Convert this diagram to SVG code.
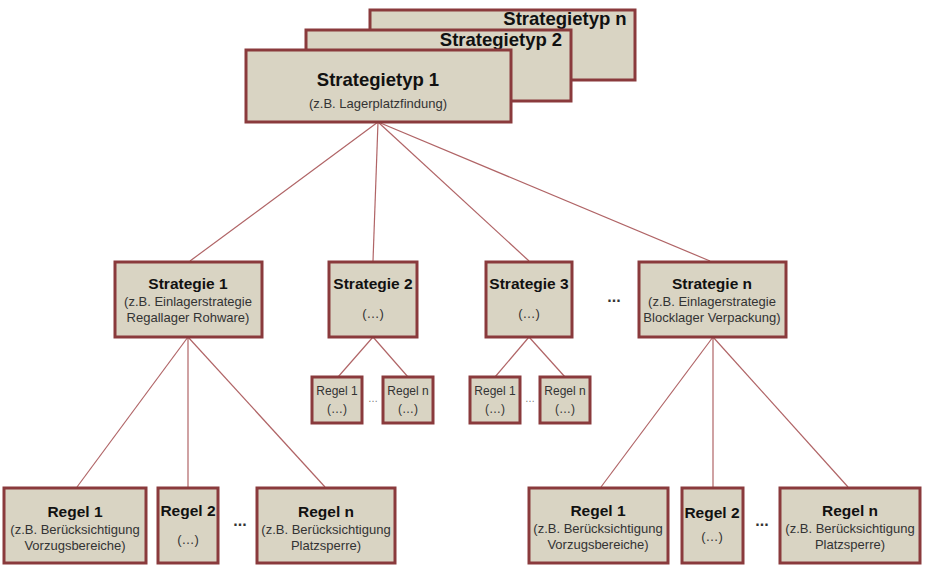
<svg xmlns="http://www.w3.org/2000/svg" width="928" height="565" viewBox="0 0 928 565">
<style>
.box{fill:#d9d4c3;stroke:#8a3a3c;stroke-width:3}
.t{font-family:"Liberation Sans",Arial,sans-serif;fill:#111;text-anchor:middle}
.h1{font-size:18.5px;font-weight:bold}
.h2{font-size:15.5px;font-weight:bold}
.s{font-size:13px;fill:#333}
.ss{font-size:12px;fill:#333}
.dots{font-family:"Liberation Sans",Arial,sans-serif;font-size:16px;font-weight:bold;fill:#333;text-anchor:middle}
.sdots{font-family:"Liberation Sans",Arial,sans-serif;font-size:10px;fill:#777;text-anchor:middle}
.c line{stroke:#b06466;stroke-width:1.2}
</style>
<rect width="928" height="565" fill="#fff"/>
<g class="c" id="connectors">
<line x1="378" y1="122" x2="190" y2="261"/>
<line x1="378" y1="122" x2="373" y2="261"/>
<line x1="378" y1="122" x2="529" y2="261"/>
<line x1="378" y1="122" x2="710" y2="261"/>
<line x1="188" y1="337" x2="77" y2="487"/>
<line x1="188" y1="337" x2="188" y2="487"/>
<line x1="188" y1="337" x2="325" y2="487"/>
<line x1="373" y1="337" x2="338" y2="377"/>
<line x1="373" y1="337" x2="408" y2="377"/>
<line x1="529" y1="337" x2="495" y2="377"/>
<line x1="529" y1="337" x2="565" y2="377"/>
<line x1="713" y1="337" x2="601" y2="487"/>
<line x1="713" y1="337" x2="713" y2="487"/>
<line x1="713" y1="337" x2="848" y2="487"/>
</g>
<g id="typ-n">
<rect class="box" x="370" y="10" width="265" height="70"/>
<text class="t h1" x="565" y="25">Strategietyp n</text>
</g>
<g id="typ-2">
<rect class="box" x="306" y="30" width="265" height="71"/>
<text class="t h1" x="501" y="46">Strategietyp 2</text>
</g>
<g id="typ-1">
<rect class="box" x="246" y="50" width="265" height="72"/>
<text class="t h1" x="378" y="86">Strategietyp 1</text>
<text class="t s" x="378" y="108">(z.B. Lagerplatzfindung)</text>
</g>
<g id="strategie-1">
<rect class="box" x="115" y="262" width="147" height="75"/>
<text class="t h2" x="188" y="289">Strategie 1</text>
<text class="t s" x="188" y="306">(z.B. Einlagerstrategie</text>
<text class="t s" x="188" y="322">Regallager  Rohware)</text>
</g>
<g id="strategie-2">
<rect class="box" x="329" y="262" width="88" height="75"/>
<text class="t h2" x="373" y="289">Strategie 2</text>
<text class="t s" x="373" y="318">(…)</text>
</g>
<g id="strategie-3">
<rect class="box" x="486" y="262" width="86" height="75"/>
<text class="t h2" x="529" y="289">Strategie 3</text>
<text class="t s" x="529" y="318">(…)</text>
</g>
<text class="dots" x="614" y="302">...</text>
<g id="strategie-n">
<rect class="box" x="639" y="262" width="147" height="75"/>
<text class="t h2" x="712" y="289">Strategie n</text>
<text class="t s" x="712" y="306">(z.B. Einlagerstrategie</text>
<text class="t s" x="712" y="322">Blocklager Verpackung)</text>
</g>
<g id="s2-regel-1">
<rect class="box" x="312" y="377" width="50" height="46"/>
<text class="t ss" x="337" y="395">Regel 1</text>
<text class="t ss" x="337" y="413">(…)</text>
</g>
<text class="sdots" x="373" y="402">…</text>
<g id="s2-regel-n">
<rect class="box" x="383" y="377" width="50" height="46"/>
<text class="t ss" x="408" y="395">Regel n</text>
<text class="t ss" x="408" y="413">(…)</text>
</g>
<g id="s3-regel-1">
<rect class="box" x="470" y="377" width="50" height="46"/>
<text class="t ss" x="495" y="395">Regel 1</text>
<text class="t ss" x="495" y="413">(…)</text>
</g>
<text class="sdots" x="530" y="402">…</text>
<g id="s3-regel-n">
<rect class="box" x="540" y="377" width="50" height="46"/>
<text class="t ss" x="565" y="395">Regel n</text>
<text class="t ss" x="565" y="413">(…)</text>
</g>
<g id="s1-regel-1">
<rect class="box" x="4" y="488" width="142" height="75"/>
<text class="t h2" x="75" y="517">Regel 1</text>
<text class="t s" x="75" y="534">(z.B. Berücksichtigung</text>
<text class="t s" x="75" y="550">Vorzugsbereiche)</text>
</g>
<g id="s1-regel-2">
<rect class="box" x="158" y="488" width="60" height="75"/>
<text class="t h2" x="188" y="516">Regel 2</text>
<text class="t s" x="188" y="544">(…)</text>
</g>
<text class="dots" x="240" y="526">...</text>
<g id="s1-regel-n">
<rect class="box" x="257" y="488" width="138" height="75"/>
<text class="t h2" x="326" y="517">Regel n</text>
<text class="t s" x="326" y="534">(z.B. Berücksichtigung</text>
<text class="t s" x="326" y="550">Platzsperre)</text>
</g>
<g id="sn-regel-1">
<rect class="box" x="529" y="488" width="139" height="75"/>
<text class="t h2" x="598" y="516">Regel 1</text>
<text class="t s" x="598" y="533">(z.B. Berücksichtigung</text>
<text class="t s" x="598" y="549">Vorzugsbereiche)</text>
</g>
<g id="sn-regel-2">
<rect class="box" x="682" y="488" width="61" height="75"/>
<text class="t h2" x="712" y="518">Regel 2</text>
<text class="t s" x="712" y="541">(…)</text>
</g>
<text class="dots" x="762" y="526">...</text>
<g id="sn-regel-n">
<rect class="box" x="780" y="488" width="140" height="75"/>
<text class="t h2" x="850" y="516">Regel n</text>
<text class="t s" x="850" y="533">(z.B. Berücksichtigung</text>
<text class="t s" x="850" y="549">Platzsperre)</text>
</g>
</svg>
